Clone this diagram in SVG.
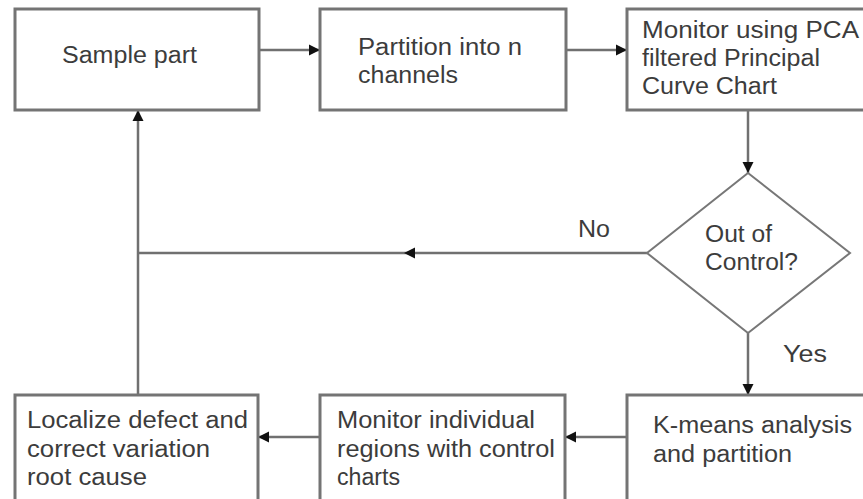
<svg xmlns="http://www.w3.org/2000/svg" width="863" height="499" viewBox="0 0 863 499">
<style>
.box{fill:#fff;stroke:#747474;stroke-width:3}
.ln{fill:none;stroke:#707070;stroke-width:2.5}
text{font-family:"Liberation Sans",Arial,sans-serif;font-size:23px;fill:#3c3c3c}
</style>
<defs>
<marker id="ah" viewBox="0 0 10 10" refX="10" refY="5" markerWidth="4.5" markerHeight="4.5" orient="auto" markerUnits="strokeWidth">
<path d="M0,0 L10,5 L0,10 z" fill="#111"/>
</marker>
</defs>
<rect width="863" height="499" fill="#fff"/>
<g id="connectors">
<line class="ln" x1="259" y1="50" x2="320" y2="50" marker-end="url(#ah)"/>
<line class="ln" x1="566" y1="50" x2="627" y2="50" marker-end="url(#ah)"/>
<line class="ln" x1="748" y1="110" x2="748" y2="173" marker-end="url(#ah)"/>
<line class="ln" x1="748" y1="333" x2="748" y2="395" marker-end="url(#ah)"/>
<line class="ln" x1="627" y1="437" x2="565" y2="437" marker-end="url(#ah)"/>
<line class="ln" x1="320" y1="437" x2="258" y2="437" marker-end="url(#ah)"/>
<line class="ln" x1="138" y1="395" x2="138" y2="110" marker-end="url(#ah)"/>
<line class="ln" x1="647" y1="253" x2="404" y2="253" marker-end="url(#ah)"/>
<line class="ln" x1="404" y1="253" x2="138" y2="253"/>
<text x="578" y="237" textLength="32" lengthAdjust="spacingAndGlyphs">No</text>
<text x="783" y="362" textLength="44" lengthAdjust="spacingAndGlyphs">Yes</text>
</g>
<g id="sample">
<rect class="box" x="15" y="9" width="244" height="101"/>
<text x="62" y="63" textLength="135" lengthAdjust="spacingAndGlyphs">Sample part</text>
</g>
<g id="partition">
<rect class="box" x="320" y="9" width="246" height="101"/>
<text x="358" y="55" textLength="164" lengthAdjust="spacingAndGlyphs">Partition into n</text>
<text x="358" y="83" textLength="100" lengthAdjust="spacingAndGlyphs">channels</text>
</g>
<g id="monitor-pca">
<rect class="box" x="627" y="9" width="250" height="101"/>
<text x="642" y="38" textLength="217" lengthAdjust="spacingAndGlyphs">Monitor using PCA</text>
<text x="642" y="66" textLength="178" lengthAdjust="spacingAndGlyphs">filtered Principal</text>
<text x="642" y="94" textLength="135" lengthAdjust="spacingAndGlyphs">Curve Chart</text>
</g>
<g id="decision">
<polygon points="748,173 850,253 748,333 647,253" fill="#fff" stroke="#777" stroke-width="2"/>
<text x="705" y="242" textLength="67" lengthAdjust="spacingAndGlyphs">Out of</text>
<text x="705" y="270" textLength="93" lengthAdjust="spacingAndGlyphs">Control?</text>
</g>
<g id="kmeans">
<rect class="box" x="627" y="395" width="250" height="110"/>
<text x="653" y="433" textLength="199" lengthAdjust="spacingAndGlyphs">K-means analysis</text>
<text x="653" y="462" textLength="139" lengthAdjust="spacingAndGlyphs">and partition</text>
</g>
<g id="monitor-regions">
<rect class="box" x="320" y="395" width="245" height="110"/>
<text x="337" y="428" textLength="198" lengthAdjust="spacingAndGlyphs">Monitor individual</text>
<text x="337" y="457" textLength="218" lengthAdjust="spacingAndGlyphs">regions with control</text>
<text x="337" y="485" textLength="63" lengthAdjust="spacingAndGlyphs">charts</text>
</g>
<g id="localize">
<rect class="box" x="15" y="395" width="243" height="110"/>
<text x="27" y="428" textLength="221" lengthAdjust="spacingAndGlyphs">Localize defect and</text>
<text x="27" y="457" textLength="183" lengthAdjust="spacingAndGlyphs">correct variation</text>
<text x="27" y="485" textLength="120" lengthAdjust="spacingAndGlyphs">root cause</text>
</g>
</svg>
